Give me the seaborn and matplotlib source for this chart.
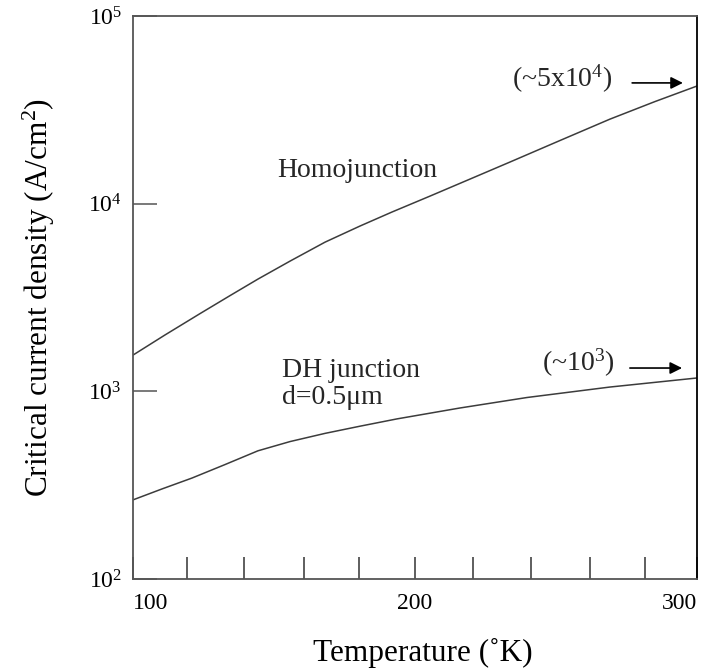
import numpy as np
import pandas as pd
import matplotlib
matplotlib.use("Agg")
import matplotlib.pyplot as plt
import seaborn as sns

# values (temperature in K, Jc in A/cm^2)
temp_homo = [100, 111.3, 123.8, 134.4, 144.3, 155.7, 168.1, 180.5, 191.8,
             205.3, 219.5, 233.7, 251.4, 269.1, 285.1, 300]
jc_homo = [1560, 1995, 2597, 3236, 3963, 4943, 6237, 7600, 9020,
           10970, 13520, 16670, 21700, 28200, 35000, 42350]

temp_dh = [100, 110.3, 120.9, 132.6, 144.3, 155.7, 168.1, 180.5, 193.6,
           215.9, 239.7, 269.1, 300]
jc_dh = [264, 302, 345, 407, 482, 540, 597, 652, 713, 815, 927, 1054, 1178]

x_major = [100, 200, 300]
x_minor = [119, 139.5, 160.5, 180, 220.5, 241, 262, 281.5]
y_major = [1e2, 1e3, 1e4, 1e5]
y_labels = [r"$\mathregular{10^{%d}}$" % k for k in (2, 3, 4, 5)]

sns.set_theme(style="white")
plt.rcParams["font.family"] = ["Liberation Serif", "DejaVu Serif"]
plt.rcParams["mathtext.fontset"] = "custom"
plt.rcParams["mathtext.rm"] = "Liberation Serif"

df_homo = pd.DataFrame({"T": temp_homo, "Jc": jc_homo})
df_dh = pd.DataFrame({"T": temp_dh, "Jc": jc_dh})

fig = plt.figure(figsize=(7.11, 6.69), dpi=100)
ax = fig.add_axes([133 / 711, 1 - 579 / 669, 564 / 711, 563 / 669])

line_col = "#3c3c3c"
sns.lineplot(data=df_homo, x="T", y="Jc", ax=ax, color=line_col, lw=1.1)
sns.lineplot(data=df_dh, x="T", y="Jc", ax=ax, color=line_col, lw=1.1)

ax.set_yscale("log")
ax.set_xlim(100, 300)
ax.set_ylim(1e2, 1e5)

ax.set_xticks(x_major)
ax.set_xticks(x_minor, minor=True)
ax.set_xticklabels([str(v) for v in x_major])
tl = ax.get_xticklabels()
tl[0].set_ha("left")
tl[-1].set_ha("right")
ax.set_yticks(y_major)
ax.set_yticklabels(y_labels)
ax.yaxis.set_minor_locator(matplotlib.ticker.NullLocator())

ax.tick_params(axis="x", which="both", bottom=True, direction="in", length=16,
               width=1.1, color="#333333", labelsize=17, pad=10, labelcolor="black")
ax.tick_params(axis="y", which="major", left=True, direction="in", length=17,
               width=1.1, color="#555555", labelsize=17, pad=8, labelcolor="black")

for side in ["left", "bottom", "top"]:
    ax.spines[side].set_color("#555555")
    ax.spines[side].set_linewidth(1.3)
ax.spines["right"].set_color("black")
ax.spines["right"].set_linewidth(1.3)

ax.set_xlabel("Temperature (˚K)", fontsize=22.5, color="black")
ax.set_ylabel(r"Critical current density (A/cm$\mathregular{^2}$)", fontsize=22.5, color="black")
ax.xaxis.set_label_coords(0.513, -0.105)
ax.yaxis.set_label_coords(-0.135, 0.5)

ax.text(151, 15100, "Homojunction", fontsize=20, ha="left", va="center")
ax.text(153, 1094, "DH junction\nd=0.5μm", fontsize=20, ha="left", va="center",
        linespacing=1.15)
ax.text(234.5, 46100, r"(~5x10$\mathregular{^4}$)", fontsize=20, ha="left", va="center")
ax.text(245, 1416, r"(~10$\mathregular{^3}$)", fontsize=20, ha="left", va="center")

arrow = dict(arrowstyle="-|>", color="black", lw=1.2, mutation_scale=18,
             shrinkA=0, shrinkB=0)
ax.annotate("", xy=(295, 44000), xytext=(277, 44000), arrowprops=arrow)
ax.annotate("", xy=(294.7, 1331), xytext=(276.2, 1331), arrowprops=arrow)

fig.savefig("out.png", dpi=100)
